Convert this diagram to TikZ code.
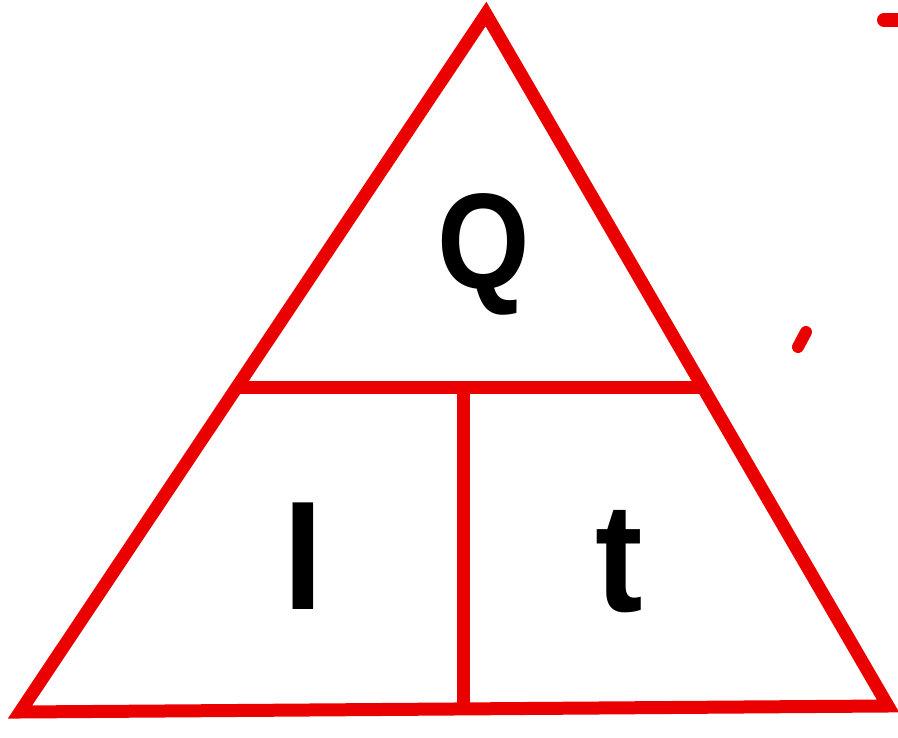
\documentclass[tikz,border=0pt]{standalone}
\usepackage{fontspec}
\setmainfont{Liberation Sans}
\usetikzlibrary{calc,positioning}
\tikzset{
  redline/.style={draw=red!92!black, line width=13pt, line join=miter},
  speck/.style={draw=red!92!black, line width=14pt, line cap=round},
  lbl/.style={inner sep=0pt, font=\fontsize{155}{155}\selectfont\bfseries, xscale=0.92}
}
\begin{document}
\begin{tikzpicture}[x=1pt,y=-1pt]
  \useasboundingbox (0,0) rectangle (898,738);
  \coordinate (apex) at (486,14);
  \coordinate (bl) at (20,712);
  \coordinate (br) at (888,706);
  \coordinate (ml) at (238,388);
  \coordinate (mr) at (703,388);
  \coordinate (mt) at ($ (ml)!0.485!(mr) $);
  \coordinate (mb) at (mt |- bl);
  \draw[redline] (apex) -- (br) -- (bl) -- cycle;
  \draw[redline] (ml) -- (mr);
  \draw[redline] (mt) -- (mb);
  % specks
  \coordinate (s1) at (884,20);
  \coordinate (s2) at (900,20);
  \draw[speck] (s1) -- (s2);
  \coordinate (s3) at (798,347);
  \coordinate (s4) at (806,332);
  \draw[speck, line width=12pt] (s3) -- (s4);
  \node[lbl, font=\fontsize{136}{136}\selectfont\bfseries, xscale=0.95] (q) at (484,254) {Q};
  \node[lbl] (i) at (303,556) {I};
  \node[lbl] (t) at (619,562) {t};
\end{tikzpicture}
\end{document}
